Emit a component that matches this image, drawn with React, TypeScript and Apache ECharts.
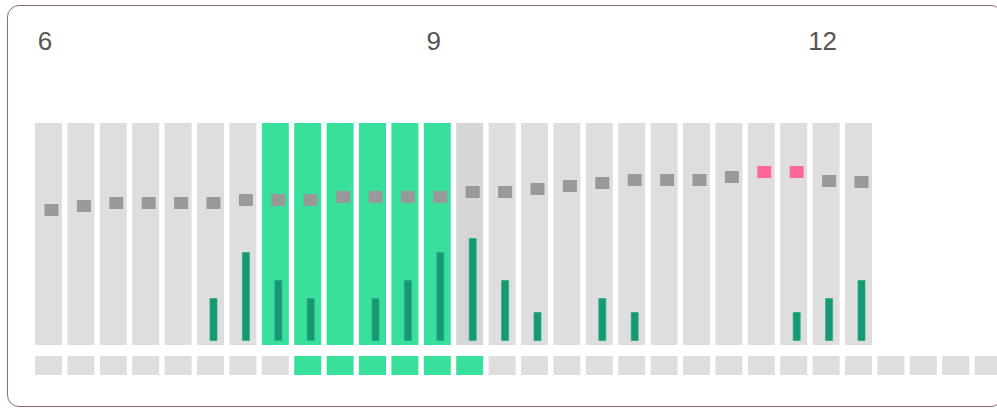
import React, { useEffect, useRef } from "react";
import * as echarts from "echarts";

// 15-minute time slots, 6:00 – 13:15
const timeSlots: string[] = [
  "6:00", "6:15", "6:30", "6:45",
  "7:00", "7:15", "7:30", "7:45",
  "8:00", "8:15", "8:30", "8:45",
  "9:00", "9:15", "9:30", "9:45",
  "10:00", "10:15", "10:30", "10:45",
  "11:00", "11:15", "11:30", "11:45",
  "12:00", "12:15", "12:30", "12:45",
  "13:00", "13:15",
];

// hours shown as tick labels
const tickHours: string[] = ["6", "9", "12"];

// level markers (forecast slots only)
const levelValues: number[] = [
  131, 135, 138, 138, 138, 138, 141, 141, 141, 144, 144, 144, 144,
  149, 149, 152, 155, 158, 161, 161, 161, 164, 169, 169, 160, 159,
];

// small bars at the bottom of each forecast slot
const barValues: number[] = [
  0, 0, 0, 0, 0, 43, 89, 61, 43, 0, 43, 61, 89,
  103, 61, 29, 0, 43, 29, 0, 0, 0, 0, 29, 43, 61,
];

// highlighted slots in the upper columns and in the bottom row
const upperHighlighted: string[] = ["7:45", "8:00", "8:15", "8:30", "8:45", "9:00"];
const lowerHighlighted: string[] = ["8:00", "8:15", "8:30", "8:45", "9:00", "9:15"];
const hoveredSlot = "9:15";

const GREEN = "#38e09b";
const GRAY = "#dedede";
const GRAY_HOVER = "#d6d6d6";
const DARK_GREEN = "#179874";
const MARKER = "#999999";
const PINK = "#ff6699";

export default function App() {
  const ref = useRef<HTMLDivElement>(null);

  useEffect(() => {
    if (!ref.current) return;
    const chart = echarts.init(ref.current, undefined, { renderer: "svg" });
    const n = timeSlots.length;
    const bandW = 32.4;
    const gridLeft = 32.3;
    const gridW = bandW * n;
    const maxLevel = Math.max(...levelValues);

    const columnData = levelValues.map((_, i) => {
      const slot = timeSlots[i];
      let color = GRAY;
      if (upperHighlighted.includes(slot)) color = GREEN;
      else if (slot === hoveredSlot) color = GRAY_HOVER;
      return { value: 1, itemStyle: { color } };
    });

    const lowerData = timeSlots.map((slot) => ({
      value: 1,
      itemStyle: { color: lowerHighlighted.includes(slot) ? GREEN : GRAY },
    }));

    const markerData = levelValues.map((v) => ({
      value: v,
      itemStyle: { color: v === maxLevel ? PINK : MARKER, opacity: 1 },
    }));

    const rainData = barValues.map((v) => (v > 0 ? v : "-"));

    const hidden = { show: false };

    chart.setOption({
      animation: false,
      grid: [
        { left: gridLeft, top: 123, width: gridW, height: 222 },
        { left: gridLeft + 3, top: 123, width: gridW, height: 218 },
        { left: gridLeft, top: 356, width: gridW, height: 19 },
      ],
      xAxis: [
        {
          type: "category",
          gridIndex: 0,
          data: timeSlots,
          position: "top",
          axisLine: hidden,
          axisTick: hidden,
          splitLine: hidden,
          axisLabel: {
            interval: 0,
            margin: 69,
            fontSize: 26,
            color: "#555555",
            fontFamily: "Liberation Sans, Arial, sans-serif",
            padding: [0, 7, 0, 0],
            formatter: (val: string) => {
              const [h, m] = val.split(":");
              return m === "00" && tickHours.includes(h) ? h : "";
            },
          },
        },
        {
          type: "category",
          gridIndex: 1,
          data: timeSlots,
          axisLine: hidden,
          axisTick: hidden,
          axisLabel: hidden,
          splitLine: hidden,
        },
        {
          type: "category",
          gridIndex: 2,
          data: timeSlots,
          axisLine: hidden,
          axisTick: hidden,
          axisLabel: hidden,
          splitLine: hidden,
        },
      ],
      yAxis: [
        { type: "value", gridIndex: 0, min: 0, max: 1, show: false, splitLine: hidden },
        { type: "value", gridIndex: 1, min: 0, max: 218, show: false, splitLine: hidden },
        { type: "value", gridIndex: 2, min: 0, max: 1, show: false, splitLine: hidden },
      ],
      series: [
        {
          type: "bar",
          name: "columns",
          xAxisIndex: 0,
          yAxisIndex: 0,
          barWidth: 27,
          data: columnData,
          silent: true,
          z: 1,
        },
        {
          type: "bar",
          name: "range",
          xAxisIndex: 2,
          yAxisIndex: 2,
          barWidth: 27,
          data: lowerData,
          silent: true,
          z: 1,
        },
        {
          type: "bar",
          name: "bars",
          xAxisIndex: 1,
          yAxisIndex: 1,
          barWidth: 8,
          data: rainData,
          itemStyle: {
            color: DARK_GREEN,
            borderColor: "rgba(40,170,130,0.75)",
            borderWidth: 1,
          },
          silent: true,
          z: 3,
        },
        {
          type: "scatter",
          name: "level",
          xAxisIndex: 1,
          yAxisIndex: 1,
          symbol: "rect",
          symbolSize: [14, 12],
          data: markerData,
          silent: true,
          z: 4,
        },
      ],
    });

    return () => chart.dispose();
  }, []);

  return (
    <div
      style={{
        position: "fixed",
        left: 0,
        top: 0,
        width: 997,
        height: 408,
        overflow: "hidden",
        background: "#ffffff",
      }}
    >
      <div
        style={{
          position: "absolute",
          left: 7,
          top: 5,
          width: 996,
          height: 402,
          boxSizing: "border-box",
          border: "1px solid #8a6d6d",
          borderRadius: 12,
        }}
      />
      <div
        ref={ref}
        style={{ position: "absolute", left: 0, top: 0, width: 1010, height: 408 }}
      />
    </div>
  );
}
